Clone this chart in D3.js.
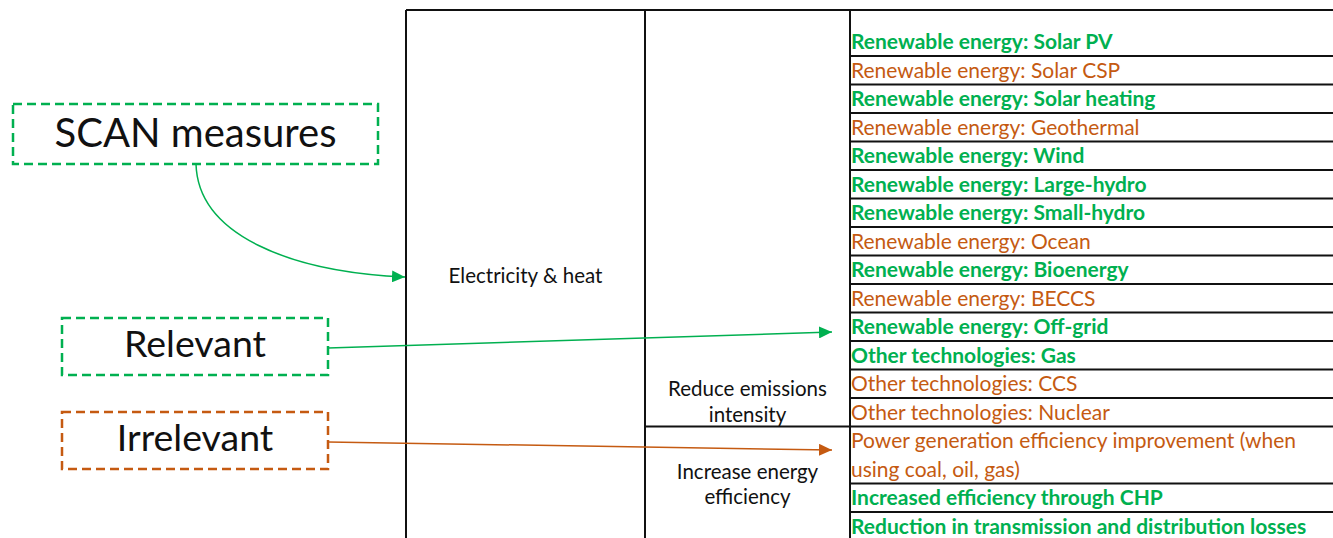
<!DOCTYPE html>
<html>
<head>
<meta charset="utf-8">
<script src="https://cdn.jsdelivr.net/npm/d3@7"></script>
<style>
  body { margin: 0; background: #fff; }
  text { font-family: Lato, "Open Sans", sans-serif; }
</style>
</head>
<body>
<svg id="chart"></svg>
<script>
// table content
const sector = "Electricity & heat";
const approaches = [["Reduce emissions", "intensity"], ["Increase energy", "efficiency"]];
const approachRows = [14, 3];   // how many measures each approach covers
const measures = [
  ["Renewable energy: Solar PV"],
  ["Renewable energy: Solar CSP"],
  ["Renewable energy: Solar heating"],
  ["Renewable energy: Geothermal"],
  ["Renewable energy: Wind"],
  ["Renewable energy: Large-hydro"],
  ["Renewable energy: Small-hydro"],
  ["Renewable energy: Ocean"],
  ["Renewable energy: Bioenergy"],
  ["Renewable energy: BECCS"],
  ["Renewable energy: Off-grid"],
  ["Other technologies: Gas"],
  ["Other technologies: CCS"],
  ["Other technologies: Nuclear"],
  ["Power generation efficiency improvement (when", "using coal, oil, gas)"],
  ["Increased efficiency through CHP"],
  ["Reduction in transmission and distribution losses"]
];
const relevant = [1, 0, 1, 0, 1, 1, 1, 0, 1, 0, 1, 1, 0, 0, 0, 1, 1];
const legend = ["SCAN measures", "Relevant", "Irrelevant"];

const width = 1333, height = 538;
const green = "#00b050", orange = "#c55a11";

const svg = d3.select("#chart")
  .attr("width", width)
  .attr("height", height);

svg.append("defs").selectAll("marker")
  .data([["arr-g", green], ["arr-o", orange]])
  .join("marker")
    .attr("id", d => d[0])
    .attr("markerUnits", "userSpaceOnUse")
    .attr("markerWidth", 14).attr("markerHeight", 12)
    .attr("refX", 13).attr("refY", 6)
    .attr("orient", "auto")
  .append("path")
    .attr("d", "M0,0L13,6L0,12Z")
    .attr("fill", d => d[1]);

// row layout: first row has extra space above it
const lineCount = measures.map(m => m.length);
const cum = [0];
lineCount.forEach(n => cum.push(cum[cum.length - 1] + n));
const y = d3.scaleLinear().domain([-0.615, cum[cum.length - 1]]).range([10, 540.5]);
const x = d3.scaleOrdinal().domain(["sector", "approach", "measure", "end"]).range([406, 645, 850, 1340]);

const grid = svg.append("g").attr("stroke", "#111").attr("stroke-width", 2);

// column lines
grid.selectAll("line.col")
  .data(["sector", "approach", "measure"])
  .join("line")
    .attr("class", "col")
    .attr("x1", d => x(d)).attr("x2", d => x(d))
    .attr("y1", y(-0.615)).attr("y2", height + 5);

// top border
grid.append("line")
  .attr("x1", x("sector")).attr("x2", x("end"))
  .attr("y1", y(-0.615)).attr("y2", y(-0.615));

// measure row lines
grid.selectAll("line.row")
  .data(cum.slice(1, -1))
  .join("line")
    .attr("class", "row")
    .attr("x1", x("measure")).attr("x2", x("end"))
    .attr("y1", d => y(d)).attr("y2", d => y(d));

// approach separator
grid.append("line")
  .attr("x1", x("approach")).attr("x2", x("measure"))
  .attr("y1", y(cum[approachRows[0]])).attr("y2", y(cum[approachRows[0]]));

// measure labels
const rowG = svg.append("g").selectAll("g")
  .data(measures)
  .join("g");

rowG.selectAll("text")
  .data((d, i) => d.map((t, j) => ({ t, line: cum[i] + j, rel: relevant[i] })))
  .join("text")
    .attr("x", x("measure") + 1)
    .attr("y", d => y(d.line + 1) - 7)
    .attr("font-size", 21)
    .attr("font-weight", d => d.rel ? "bold" : "normal")
    .attr("fill", d => d.rel ? green : orange)
    .text(d => d.t);

// sector label
const midX = (x("sector") + x("approach")) / 2;
svg.append("text")
  .attr("x", midX).attr("y", (y(-0.615) + 540) / 2 + 8)
  .attr("text-anchor", "middle")
  .attr("font-size", 20.5)
  .attr("fill", "#111")
  .text(sector);

// approach labels
const apX = (x("approach") + x("measure")) / 2;
const apBottom = [y(cum[approachRows[0]]), 540];
const apLines = [[-31, -5], [-61, -36]];
approaches.forEach((a, i) => {
  svg.append("g").selectAll("text")
    .data(a)
    .join("text")
      .attr("x", apX)
      .attr("y", (d, j) => apBottom[i] + apLines[i][j])
      .attr("text-anchor", "middle")
      .attr("font-size", 20.5)
      .attr("fill", "#111")
      .text(d => d);
});

// legend boxes
const boxes = [
  { x: 13, y: 104, w: 365, h: 60, c: green, fs: 40 },
  { x: 62, y: 318, w: 266, h: 57, c: green, fs: 37.5 },
  { x: 62, y: 412, w: 266, h: 57, c: orange, fs: 37.5 }
];
const lg = svg.append("g").selectAll("g")
  .data(legend)
  .join("g");
lg.append("rect")
  .attr("x", (d, i) => boxes[i].x).attr("y", (d, i) => boxes[i].y)
  .attr("width", (d, i) => boxes[i].w).attr("height", (d, i) => boxes[i].h)
  .attr("fill", "none")
  .attr("stroke", (d, i) => boxes[i].c)
  .attr("stroke-width", 2.5)
  .attr("stroke-dasharray", "9,5");
lg.append("text")
  .attr("x", (d, i) => boxes[i].x + boxes[i].w / 2)
  .attr("y", (d, i) => boxes[i].y + boxes[i].h / 2 + (i === 0 ? 13 : 10))
  .attr("text-anchor", "middle")
  .attr("font-size", (d, i) => boxes[i].fs)
  .attr("fill", "#111")
  .text(d => d);

// arrows
const arrows = svg.append("g").attr("fill", "none").attr("stroke-width", 1.5);
arrows.append("path")
  .attr("d", "M196,164 C198,235 290,272 405,277")
  .attr("stroke", green)
  .attr("marker-end", "url(#arr-g)");
arrows.append("path")
  .attr("d", d3.line()([[328, 348], [832, 332]]))
  .attr("stroke", green)
  .attr("marker-end", "url(#arr-g)");
arrows.append("path")
  .attr("d", d3.line()([[328, 442], [832, 450]]))
  .attr("stroke", orange)
  .attr("marker-end", "url(#arr-o)");
</script>
</body>
</html>
